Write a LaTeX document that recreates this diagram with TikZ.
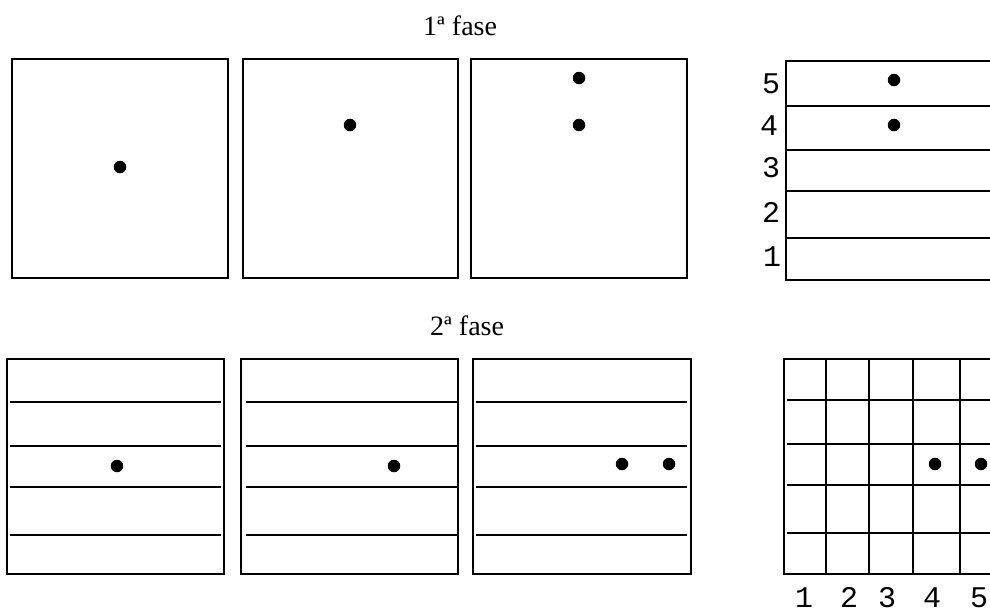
\documentclass[tikz,border=0pt]{standalone}
\usepackage{fontspec}
\setmainfont{Liberation Serif}
\newfontfamily\numfont{Liberation Mono}
\begin{document}
\begin{tikzpicture}[x=1pt,y=-1pt,
  box/.style={draw=black,line width=1.3pt},
  rule/.style={draw=black,line width=1.3pt},
  dot/.style={circle,fill=black,inner sep=0pt,minimum size=12.5pt},
  title/.style={font=\fontsize{28}{30}\selectfont,inner sep=0pt,anchor=base west},
  num/.style={font=\numfont\fontsize{30}{32}\selectfont,inner sep=0pt,anchor=base}]
\useasboundingbox (0,0) rectangle (990,614);
\fill[white] (0,0) rectangle (990,614);
\clip (0,0) rectangle (990,614);

% titles
\node[title] (t1) at (423,35) {1ª fase};
\node[title] (t2) at (430,335) {2ª fase};

% ---- 1st phase ----
\draw[box] (12,59) rectangle (228,278);
\node[dot] (d11) at (120,167) {};
\draw[box] (243,59) rectangle (458,278);
\node[dot] (d21) at (350,125) {};
\draw[box] (471,59) rectangle (687,278);
\node[dot] (d31) at (579,78) {};
\node[dot] (d32) at (579,125) {};
\draw[box] (786,61) rectangle (1000,280);
\foreach \yy in {106,150,191,238} \draw[rule] (786,\yy) -- (1000,\yy);
\node[dot] (d41) at (894,80) {};
\node[dot] (d42) at (894,125) {};
\node[num] (r5) at (771,93) {5};
\node[num] (r4) at (769,135) {4};
\node[num] (r3) at (771,177) {3};
\node[num] (r2) at (771,222) {2};
\node[num] (r1) at (772,266) {1};

% ---- 2nd phase ----
\draw[box] (7,359) rectangle (224,574);
\foreach \yy in {402,446,487,535} \draw[rule] (10,\yy) -- (221,\yy);
\node[dot] (e11) at (117,466) {};
\draw[box] (241,359) rectangle (458,574);
\foreach \yy in {402,446,487,535} \draw[rule] (246,\yy) -- (457,\yy);
\node[dot] (e21) at (394,466) {};
\draw[box] (473,359) rectangle (691,574);
\foreach \yy in {402,446,487,535} \draw[rule] (476,\yy) -- (687,\yy);
\node[dot] (e31) at (622,464) {};
\node[dot] (e32) at (669,464) {};
\draw[box] (784,359) rectangle (1000,574);
\foreach \yy in {400,444,485,533} \draw[rule] (787,\yy) -- (1000,\yy);
\foreach \xx in {826,869,913,960} \draw[rule] (\xx,359) -- (\xx,574);
\node[dot] (e41) at (935,464) {};
\node[dot] (e42) at (981,464) {};
\node[num] (c1) at (804,607) {1};
\node[num] (c2) at (849,607) {2};
\node[num] (c3) at (887,607) {3};
\node[num] (c4) at (932,607) {4};
\node[num] (c5) at (979,607) {5};
\end{tikzpicture}
\end{document}
